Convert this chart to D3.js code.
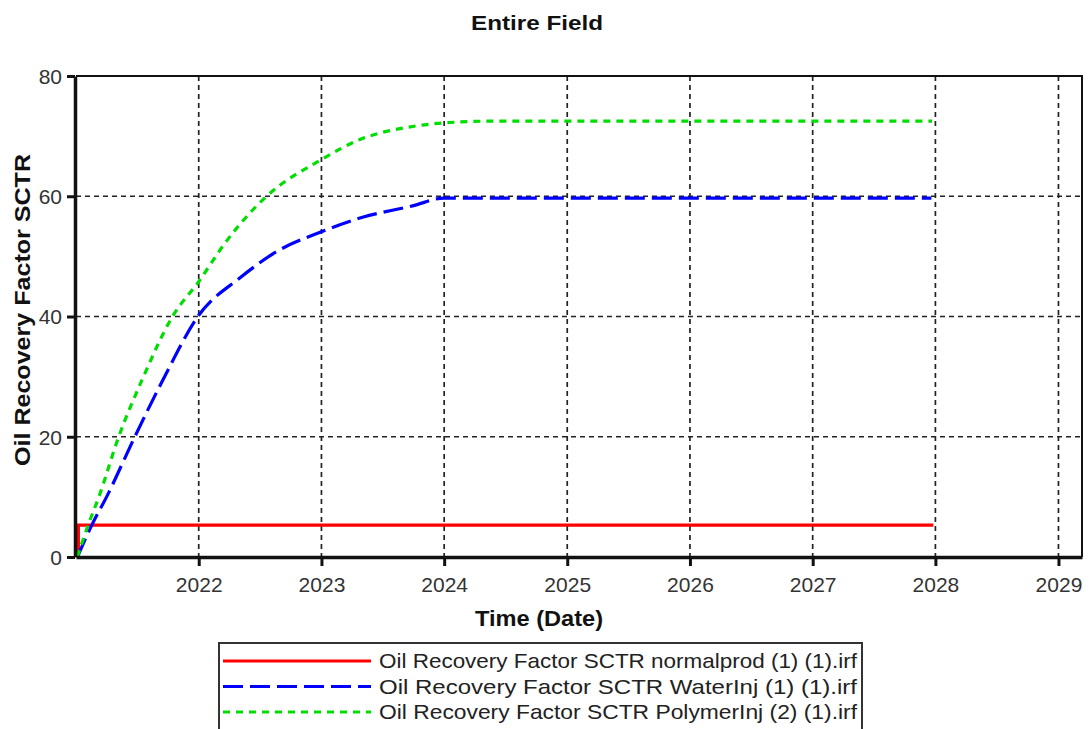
<!DOCTYPE html>
<html>
<head>
<meta charset="utf-8">
<script src="https://cdn.jsdelivr.net/npm/d3@7"></script>
<style>
  html, body { margin: 0; padding: 0; background: #fff; }
  svg { display: block; font-family: "Liberation Sans", Arial, sans-serif; }
</style>
</head>
<body>
<svg id="chart" width="1091" height="729"></svg>
<script>
// Oil recovery factor (SCTR, %) for the entire field, three runs
const normalProdDates  = ["2021-01-08", "2021-01-08", "2027-12-26"];
const normalProdValues = [0, 5.3, 5.3];

const waterInjDates  = ["2021-01-05", "2021-02-17", "2021-04-02", "2021-06-25", "2021-09-16",
                        "2022-01-01", "2022-05-03", "2022-08-21", "2023-01-01", "2023-05-03",
                        "2023-09-29", "2024-01-01", "2027-12-20"];
const waterInjValues = [0, 5.3, 10, 20, 29.4, 40.2, 46.4, 50.8, 54.1, 56.5, 58.4, 59.7, 59.7];

const polymerInjDates  = ["2021-01-05", "2021-02-06", "2021-03-10", "2021-05-08", "2021-07-16",
                          "2021-10-15", "2022-01-01", "2022-03-20", "2022-07-16", "2023-01-01",
                          "2023-04-24", "2023-09-29", "2024-01-01", "2024-06-01", "2027-12-22"];
const polymerInjValues = [0, 5.3, 10, 20, 29.4, 40, 45.8, 52.2, 59.7, 66.1, 69.4, 71.6, 72.2, 72.5, 72.5];

const yTicks = [0, 20, 40, 60, 80];
const xTickYears = [2022, 2023, 2024, 2025, 2026, 2027, 2028, 2029];

const seriesNames = [
  "Oil Recovery Factor SCTR normalprod (1) (1).irf",
  "Oil Recovery Factor SCTR WaterInj (1) (1).irf",
  "Oil Recovery Factor SCTR PolymerInj (2) (1).irf"
];

const parse = d3.timeParse("%Y-%m-%d");
const series = [
  { name: seriesNames[0], dates: normalProdDates, values: normalProdValues, color: "#ff0000", dash: null, curve: d3.curveLinear },
  { name: seriesNames[1], dates: waterInjDates, values: waterInjValues, color: "#0000ff", dash: "20,7", curve: d3.curveMonotoneX },
  { name: seriesNames[2], dates: polymerInjDates, values: polymerInjValues, color: "#00dd00", dash: "7,6", curve: d3.curveMonotoneX }
].map(s => ({ ...s, points: s.dates.map((d, i) => ({ date: parse(d), value: s.values[i] })) }));

const svg = d3.select("#chart");
const plot = { left: 76, right: 1082, top: 76, bottom: 557 };

const x = d3.scaleTime()
  .domain([new Date(2021, 0, 1), new Date(2029, 2, 12)])
  .range([plot.left, plot.right]);
const y = d3.scaleLinear().domain([0, 80]).range([plot.bottom, plot.top]);

// Title
svg.append("text")
  .attr("x", 537).attr("y", 30)
  .attr("text-anchor", "middle")
  .attr("font-size", 21).attr("font-weight", "bold")
  .attr("fill", "#111")
  .attr("textLength", 132).attr("lengthAdjust", "spacingAndGlyphs")
  .text("Entire  Field");

// Grid
const grid = svg.append("g").attr("stroke", "#222").attr("stroke-width", 1.7).attr("stroke-dasharray", "5,4");
grid.selectAll(".vg").data(xTickYears).join("line")
  .attr("x1", d => x(new Date(d, 0, 1))).attr("x2", d => x(new Date(d, 0, 1)))
  .attr("y1", plot.top).attr("y2", plot.bottom);
grid.selectAll(".hg").data(yTicks.filter(v => v > 0 && v < 80)).join("line")
  .attr("x1", plot.left).attr("x2", plot.right)
  .attr("y1", d => y(d)).attr("y2", d => y(d));

// Frame (top and right)
svg.append("path")
  .attr("d", `M${plot.left},${plot.top}H${plot.right}V${plot.bottom}`)
  .attr("fill", "none").attr("stroke", "#111").attr("stroke-width", 2);

// Series
svg.append("g").selectAll("path").data(series).join("path")
  .attr("d", s => d3.line().x(d => x(d.date)).y(d => y(d.value)).curve(s.curve)(s.points))
  .attr("fill", "none")
  .attr("stroke", s => s.color)
  .attr("stroke-width", 3.2)
  .attr("stroke-dasharray", s => s.dash);

// Axes
const xAxis = d3.axisBottom(x)
  .tickValues(xTickYears.map(yv => new Date(yv, 0, 1)))
  .tickFormat(d3.timeFormat("%Y"))
  .tickSize(9).tickSizeOuter(0).tickPadding(11);
const gx = svg.append("g").attr("transform", `translate(0,${plot.bottom})`).call(xAxis);

const yAxis = d3.axisLeft(y).tickValues(yTicks).tickSize(8).tickSizeOuter(0).tickPadding(5);
const gy = svg.append("g").attr("transform", `translate(${plot.left - 1},0)`).call(yAxis);

[gx, gy].forEach(g => {
  g.select(".domain").attr("stroke", "#111").attr("stroke-width", 3.5);
  g.selectAll(".tick line").attr("stroke", "#111").attr("stroke-width", 3);
  g.selectAll(".tick text").attr("font-size", 21).attr("fill", "#333")
    .attr("font-family", "'Liberation Sans', Arial, sans-serif");
});
gy.selectAll(".tick text").attr("dy", "0.35em");

// Axis titles
svg.append("text")
  .attr("x", 539).attr("y", 626)
  .attr("text-anchor", "middle")
  .attr("font-size", 22).attr("font-weight", "bold").attr("fill", "#111")
  .attr("textLength", 128).attr("lengthAdjust", "spacingAndGlyphs")
  .text("Time (Date)");

svg.append("text")
  .attr("transform", "translate(30,310) rotate(-90)")
  .attr("text-anchor", "middle")
  .attr("font-size", 22).attr("font-weight", "bold").attr("fill", "#111")
  .attr("textLength", 312).attr("lengthAdjust", "spacingAndGlyphs")
  .text("Oil Recovery Factor SCTR");

// Legend
const legend = svg.append("g");
legend.append("rect")
  .attr("x", 219).attr("y", 643).attr("width", 643).attr("height", 100)
  .attr("fill", "#fff").attr("stroke", "#333").attr("stroke-width", 2);
const rows = legend.selectAll(".row").data(series).join("g")
  .attr("transform", (d, i) => `translate(0,${661 + i * 25.5})`);
rows.append("line")
  .attr("x1", 223).attr("x2", 371)
  .attr("stroke", d => d.color).attr("stroke-width", 3.2)
  .attr("stroke-dasharray", d => d.dash);
rows.append("text")
  .attr("x", 379).attr("y", 7)
  .attr("font-size", 21).attr("fill", "#222")
  .attr("textLength", 478).attr("lengthAdjust", "spacingAndGlyphs")
  .text(d => d.name);
</script>
</body>
</html>
